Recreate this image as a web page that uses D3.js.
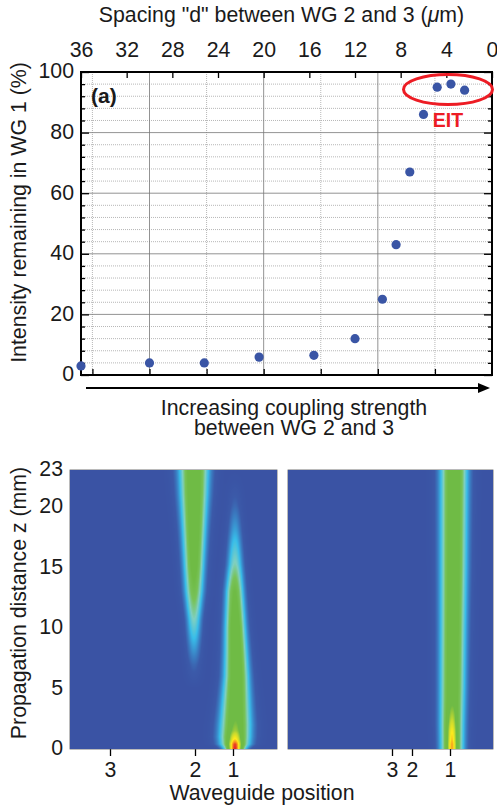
<!DOCTYPE html>
<html><head><meta charset="utf-8">
<script src="https://cdn.jsdelivr.net/npm/d3@7"></script>
<style>
html,body{margin:0;padding:0;background:#fff;}
#wrap{position:relative;width:497px;height:811px;overflow:hidden;}
canvas{position:absolute;}
svg{position:absolute;left:0;top:0;}
text{font-family:"Liberation Sans",Arial,sans-serif;fill:#1a1a1a;}
</style></head><body><div id="wrap"></div>
<script>
// ---- panel (a) data
const spacing   = [36, 30, 25.2, 20.4, 15.6, 12, 9.6, 8.4, 7.2, 6, 4.8, 3.6, 2.4];
const remaining = [3, 4, 4, 5.9, 6.5, 12, 25, 43, 67, 86, 95, 96, 94];
const topTicks = [36, 32, 28, 24, 20, 16, 12, 8, 4, 0];
const bottomTicks = [35, 30, 25, 20, 15, 10, 5];
const gridMajorX = [30, 20, 10];
const gridMinorX = [35, 25, 15, 5];
const leftTicks = [0, 20, 40, 60, 80, 100];
const minorY = [4,8,12,16,24,28,32,36,44,48,52,56,64,68,72,76,84,88,92,96];

// ---- panels (b),(c) beam data, per z station (mm)
const zTicks = [0, 5, 10, 15, 20, 23];
const zB1     = [0, 0.4, 1, 2, 4, 6, 8, 10, 13, 15.2, 18, 20, 22, 23];
const b1Peak  = [.52, .52, .52, .50, .50, .50, .50, .49, .40, .25, .13, .06, .01, 0];
const b1Width = [7, 9.5, 10, 10, 9, 8, 7.3, 6.7, 6, 5.4, 4.8, 4.5, 4.5, 4.5];
const b1Pos   = [235, 235, 235, 235.5, 236, 236.5, 236, 235.3, 234.7, 235, 235, 235, 235, 235];
const zCore   = [0, 0.4, 0.8, 1.5, 2.5, 4];
const b1Core  = [.48, .45, .28, .1, .03, 0];
const zB2     = [0, 5, 7, 8.5, 10.7, 13, 15, 18, 21, 23];
const b2Peak  = [0, 0, .06, .13, .24, .36, .44, .49, .5, .5];
const b2Width = [5, 5, 5, 5, 5.2, 6.3, 6.7, 7.6, 8.9, 9.5];
const b2Pos   = [194, 194, 194, 194, 194, 194, 194, 194, 194, 194];
const zC      = [0, 2, 5, 10, 15, 23];
const cPeak   = [.5, .5, .5, .5, .5, .5];
const cWidth  = [7.5, 7.7, 7.9, 8.1, 8.4, 8.7];
const cPos    = [452, 452, 452.5, 453, 453.5, 454];
const cCore   = [.36, .36, .32, .27, .15, 0];
const wgB = [["3", 110], ["2", 195], ["1", 233]];
const wgC = [["3", 392], ["2", 412], ["1", 450]];
const zTickLabels = ["0", "5", "10", "15", "20", "23"];

// ---- layout
const A = {l:81, r:492, t:72, b:375};
const H = {t:470, b:749};
const B = {l:70, r:277}, C = {l:288, r:493};
const wrap = d3.select("#wrap");
const svg = wrap.append("svg").attr("width",497).attr("height",811);
const FS = 21.3;

const x = d3.scaleLinear().domain([36,0]).range([A.l,A.r]);
const y = d3.scaleLinear().domain([0,100]).range([A.b,A.t]);

// grids
const grid = svg.append("g").attr("fill","none");
grid.selectAll("line.mx").data(gridMinorX).join("line").attr("x1",d=>x(d)).attr("x2",d=>x(d)).attr("y1",A.t).attr("y2",A.b)
  .attr("stroke","#a5a5a5").attr("stroke-width",.8).attr("stroke-dasharray","1 1");
grid.selectAll("line.my").data(minorY).join("line").attr("class","my").attr("y1",d=>y(d)).attr("y2",d=>y(d)).attr("x1",A.l).attr("x2",A.r)
  .attr("stroke","#a5a5a5").attr("stroke-width",.8).attr("stroke-dasharray","1 1");
grid.append("g").selectAll("line").data(gridMajorX).join("line").attr("x1",d=>x(d)).attr("x2",d=>x(d)).attr("y1",A.t).attr("y2",A.b)
  .attr("stroke","#777").attr("stroke-width",.8);
grid.append("g").selectAll("line").data(leftTicks.slice(1,-1)).join("line").attr("y1",d=>y(d)).attr("y2",d=>y(d)).attr("x1",A.l).attr("x2",A.r)
  .attr("stroke","#777").attr("stroke-width",.8);

function styleAxis(g){
  g.select(".domain").remove();
  g.selectAll("line").attr("stroke","#000").attr("stroke-width",1.3);
  g.selectAll("text").attr("font-size",FS).attr("font-family",'"Liberation Sans",Arial,sans-serif').attr("fill","#1a1a1a");
}
// top axis
svg.append("g").attr("transform",`translate(0,${A.t})`)
  .call(d3.axisTop(x).tickValues(topTicks).tickSize(-6).tickPadding(15)).call(styleAxis)
  .selectAll("text").attr("dy",0);
// bottom axis (no labels)
svg.append("g").attr("transform",`translate(0,${A.b})`)
  .call(d3.axisBottom(x).tickValues(bottomTicks).tickSize(-6).tickFormat("")).call(styleAxis);
// left, right axes
svg.append("g").attr("transform",`translate(${A.l},0)`)
  .call(d3.axisLeft(y).tickValues(leftTicks).tickSize(-8).tickPadding(7)).call(styleAxis)
  .selectAll("text").attr("dy","0.28em");
svg.append("g").attr("transform",`translate(${A.l},0)`)
  .call(d3.axisLeft(y).tickValues(minorY).tickSize(-4).tickFormat("")).call(styleAxis);
svg.append("g").attr("transform",`translate(${A.r},0)`)
  .call(d3.axisRight(y).tickValues(leftTicks).tickSize(-8).tickFormat("")).call(styleAxis);
svg.append("g").attr("transform",`translate(${A.r},0)`)
  .call(d3.axisRight(y).tickValues(minorY).tickSize(-4).tickFormat("")).call(styleAxis);
svg.append("rect").attr("x",A.l).attr("y",A.t).attr("width",A.r-A.l).attr("height",A.b-A.t)
  .attr("fill","none").attr("stroke","#000").attr("stroke-width",2);

// points
svg.append("g").selectAll("circle").data(spacing).join("circle")
  .attr("cx",d=>x(d)).attr("cy",(d,i)=>y(remaining[i])).attr("r",4.6).attr("fill","#3a55a5");

// EIT ellipse
svg.append("ellipse").attr("cx",448).attr("cy",89.5).attr("rx",44.5).attr("ry",15)
  .attr("fill","none").attr("stroke","#ed1c24").attr("stroke-width",3);
const T=(s,px,py,o={})=>{const t=svg.append("text").attr("x",px).attr("y",py).attr("font-size",o.fs||FS)
  .attr("text-anchor",o.a||"middle").attr("font-weight",o.w||"normal").style("fill",o.c||"#1a1a1a");
  if(o.rot)t.attr("transform",`rotate(-90 ${px} ${py})`); t.text(s); return t;};
T("EIT",448,127,{fs:19.5,w:"bold",c:"#ed1c24"});
T("(a)",91,103,{a:"start",w:"bold",fs:21});

// titles
const tt=T("",281.5,22,{});
tt.append("tspan").text('Spacing "d" between WG 2 and 3 (');
tt.append("tspan").attr("font-style","italic").text("\u03BC");
tt.append("tspan").text("m)");
T("Intensity remaining in WG 1 (%)",26,212.5,{rot:true});
T("Increasing coupling strength",294,415);
T("between WG 2 and 3",294,435);
T("Propagation distance z (mm)",26,603,{rot:true});
T("Waveguide position",262,800);

// arrow
svg.append("line").attr("x1",86).attr("x2",480).attr("y1",388).attr("y2",388).attr("stroke","#000").attr("stroke-width",2);
svg.append("path").attr("d",d3.line()([[478,383],[490,388],[478,393]])+"Z").attr("fill","#000");

// ---- heat maps
const z = d3.scaleLinear().domain([0,23]).range([H.b,H.t]);
const colour = d3.scaleLinear()
  .domain([0, .04, .09, .16, .24, .32, .40, .54, .66, .78, .9, 1])
  .range(["#3a53a4","#3b5aa9","#3a80c4","#38bde9","#7fcfc0","#78c259","#6fbb45","#6fbb45","#c6d92f","#fdea1c","#f68a1f","#e41f26"])
  .clamp(true);
const interp=(zs,vs)=>d3.scaleLinear().domain(zs).range(vs).clamp(true);
function beam(zs,peak,width,pos){
  const p=interp(zs,peak),w=interp(zs,width),c=interp(zs,pos);
  return (px,zv)=>{const r=(px-c(zv))/w(zv);return p(zv)*Math.exp(-r*r/2);};
}
function core(zs,amp,pos,zp,sig){
  const a=interp(zs,amp),c=interp(zp,pos);
  return (px,zv)=>{const r=(px-c(zv))/sig;return a(zv)*Math.exp(-r*r/2);};
}
function heat(P,fields){
  const w=P.r-P.l,h=H.b-H.t;
  const cv=wrap.append("canvas").attr("width",w).attr("height",h)
    .style("left",P.l+"px").style("top",H.t+"px").node();
  const ctx=cv.getContext("2d");
  for(let j=0;j<h;j++){const zv=z.invert(H.t+j+.5);
    for(let i=0;i<w;i++){const px=P.l+i+.5;
      ctx.fillStyle=colour(d3.sum(fields,f=>f(px,zv)));
      ctx.fillRect(i,j,1,1);
    }}
}
heat(B,[beam(zB1,b1Peak,b1Width,b1Pos),beam(zB2,b2Peak,b2Width,b2Pos),core(zCore,b1Core,b1Pos,zB1,4)]);
heat(C,[beam(zC,cPeak,cWidth,cPos),core(zCore,cCore,cPos,zC,3)]);

// z axis labels
svg.append("g").attr("transform",`translate(${B.l},0)`)
  .call(d3.axisLeft(z).tickValues(zTicks).tickSize(0).tickPadding(7).tickFormat((d,i)=>zTickLabels[i])).call(styleAxis)
  .selectAll("text").attr("dy","0.28em");

// waveguide ticks
[[wgB,B],[wgC,C]].forEach(([wg,P])=>{
  const s=d3.scaleOrdinal().domain(wg.map(d=>d[0])).range(wg.map(d=>d[1]));
  svg.append("g").attr("transform",`translate(0,${H.b})`)
    .call(d3.axisBottom(s).tickSize(7).tickPadding(6)).call(styleAxis)
    .selectAll("text").attr("dy","0.71em");
  svg.append("rect").attr("x",P.l).attr("y",H.t).attr("width",P.r-P.l).attr("height",H.b-H.t)
    .attr("fill","none").attr("stroke","#555").attr("stroke-width",.8);
});
T("(b)",86,498,{a:"start",w:"bold",c:"#fff",fs:21});
T("(c)",301,498,{a:"start",w:"bold",c:"#fff",fs:21});
</script></body></html>
